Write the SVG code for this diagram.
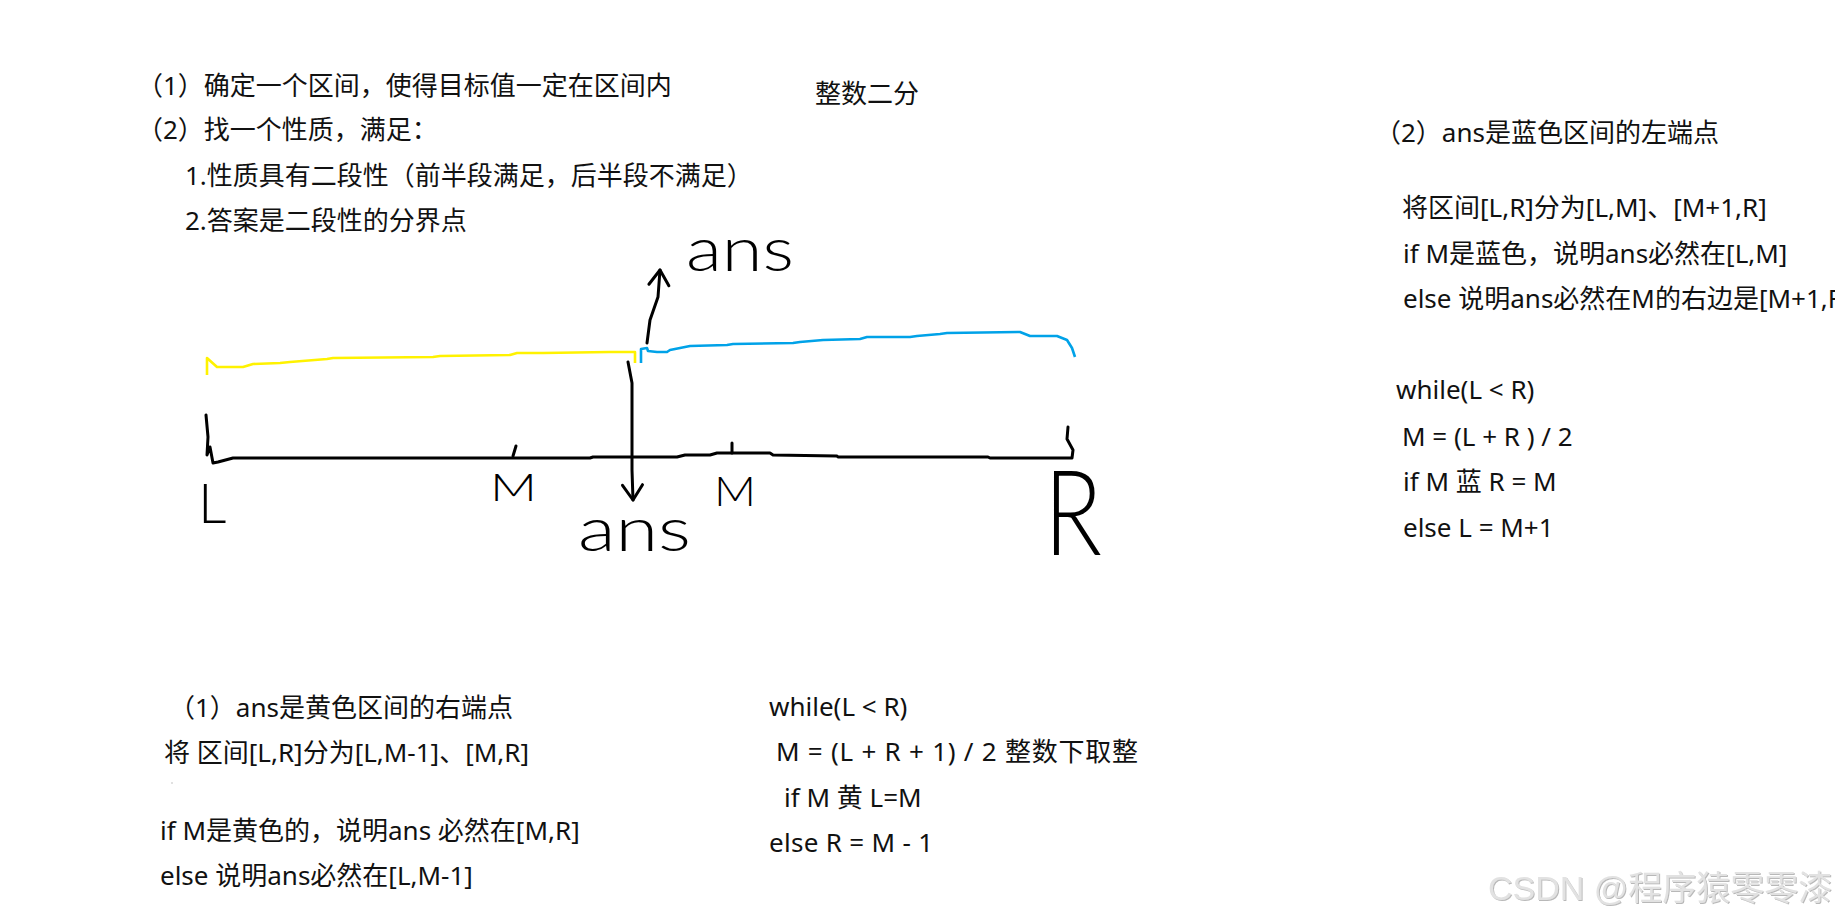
<svg xmlns="http://www.w3.org/2000/svg" width="1835" height="918" viewBox="0 0 1835 918">
<defs>
<style>
.t{font-family:"Noto Sans","Noto Sans CJK SC",sans-serif;font-size:26px;fill:#111}
.h{font-family:Lato,"Liberation Sans",sans-serif;font-weight:300;fill:#000}
.ink{fill:none;stroke:#000;stroke-width:3;stroke-linecap:round;stroke-linejoin:round}
.yl{fill:none;stroke:#FFF200;stroke-width:2.6;stroke-linejoin:round}
.bl{fill:none;stroke:#00A2E8;stroke-width:2.6;stroke-linejoin:round}
.wm{font-family:"Liberation Sans","Noto Sans CJK SC",sans-serif;font-size:34px;fill:#e2e2e2}
</style>
<marker id="ah" markerUnits="userSpaceOnUse" markerWidth="26" markerHeight="26" refX="20" refY="13" orient="auto">
<path d="M5,3 L20,13 L5,23" fill="none" stroke="#000" stroke-width="3" stroke-linecap="round" stroke-linejoin="round"/>
</marker>
<filter id="emb" x="-5%" y="-20%" width="110%" height="140%">
<feDropShadow dx="1" dy="1" stdDeviation="0.6" flood-color="#888" flood-opacity="0.6"/>
</filter>
</defs>
<rect width="1835" height="918" fill="#fff"/>

<g id="intro">
<text class="t" x="137" y="95">（1）确定一个区间，使得目标值一定在区间内</text>
<text class="t" x="137" y="139">（2）找一个性质，满足：</text>
<text class="t" x="185" y="185">1.性质具有二段性（前半段满足，后半段不满足）</text>
<text class="t" x="185" y="230">2.答案是二段性的分界点</text>
</g>

<g id="title">
<text class="t" x="815" y="103">整数二分</text>
</g>

<g id="range-diagram">
<polyline class="yl" points="207,375 207,358 217,367 243,367 253,364 280,363 290,362 327,359 333,358 433,357 440,356 510,355 517,353 543,353 610,352 635,352 635,363"/>
<polyline class="bl" points="641,363 641,349 647,348 648,351 657,352 667,352 670,350 680,348 690,346 727,345 733,344 793,343 800,342 823,340 860,339 867,337 910,337 917,336 940,334 947,333 1020,332 1030,336 1057,336 1067,340 1072,348 1075,357"/>
<polyline class="ink" points="206,415 208,437 207,455 210,447 213,463 218,462 233,458 590,458 593,457 677,457 685,455 710,455 717,453 770,453 773,455 837,456 838,457 988,457 990,458 1072,458 1073,450 1067,439 1068,427"/>
<line class="ink" x1="513" y1="456" x2="516" y2="446"/>
<line class="ink" x1="732" y1="453" x2="732" y2="443"/>
</g>

<g id="labels">
<text class="h" x="198" y="523" font-size="56">L</text>
<text class="h" x="490" y="501" font-size="38" textLength="47" lengthAdjust="spacingAndGlyphs">M</text>
<text class="h" x="714" y="506" font-size="42" textLength="42" lengthAdjust="spacingAndGlyphs">M</text>
<text class="h" x="1044" y="555" font-size="118" textLength="58" lengthAdjust="spacingAndGlyphs">R</text>
<text class="h" x="686" y="271" font-size="62" textLength="108" lengthAdjust="spacingAndGlyphs">ans</text>
<text class="h" x="578" y="551" font-size="62" textLength="113" lengthAdjust="spacingAndGlyphs">ans</text>
</g>

<g id="connectors">
<polyline class="ink" points="647,343 650,320 658,297 660,270" marker-end="url(#ah)"/>
<polyline class="ink" points="628,362 632,383 632,470 633,500" marker-end="url(#ah)"/>
</g>

<g id="case-blue">
<text class="t" x="1375" y="142">（2）ans是蓝色区间的左端点</text>
<text class="t" x="1402" y="217">将区间[L,R]分为[L,M]、[M+1,R]</text>
<text class="t" x="1403" y="263">if M是蓝色，说明ans必然在[L,M]</text>
<text class="t" x="1403" y="308">else 说明ans必然在M的右边是[M+1,R]</text>
<text class="t" x="1396" y="399">while(L &lt; R)</text>
<text class="t" x="1402" y="446">M = (L + R ) / 2</text>
<text class="t" x="1403" y="491">if M 蓝 R = M</text>
<text class="t" x="1403" y="537">else L = M+1</text>
</g>

<g id="case-yellow">
<text class="t" x="169" y="717">（1）ans是黄色区间的右端点</text>
<text class="t" x="164" y="762">将 区间[L,R]分为[L,M-1]、[M,R]</text>
<circle cx="172" cy="783" r="0.8" fill="#bbb"/>
<text class="t" x="160" y="840">if M是黄色的，说明ans 必然在[M,R]</text>
<text class="t" x="160" y="885">else 说明ans必然在[L,M-1]</text>
</g>

<g id="code-yellow">
<text class="t" x="769" y="716">while(L &lt; R)</text>
<text class="t" x="776" y="761" textLength="362">M = (L + R + 1) / 2 整数下取整</text>
<text class="t" x="784" y="807">if M 黄 L=M</text>
<text class="t" x="769" y="852" textLength="164">else R = M - 1</text>
</g>

<g id="watermark">
<text class="wm" x="1488" y="900" filter="url(#emb)">CSDN @程序猿零零漆</text>
</g>
</svg>
